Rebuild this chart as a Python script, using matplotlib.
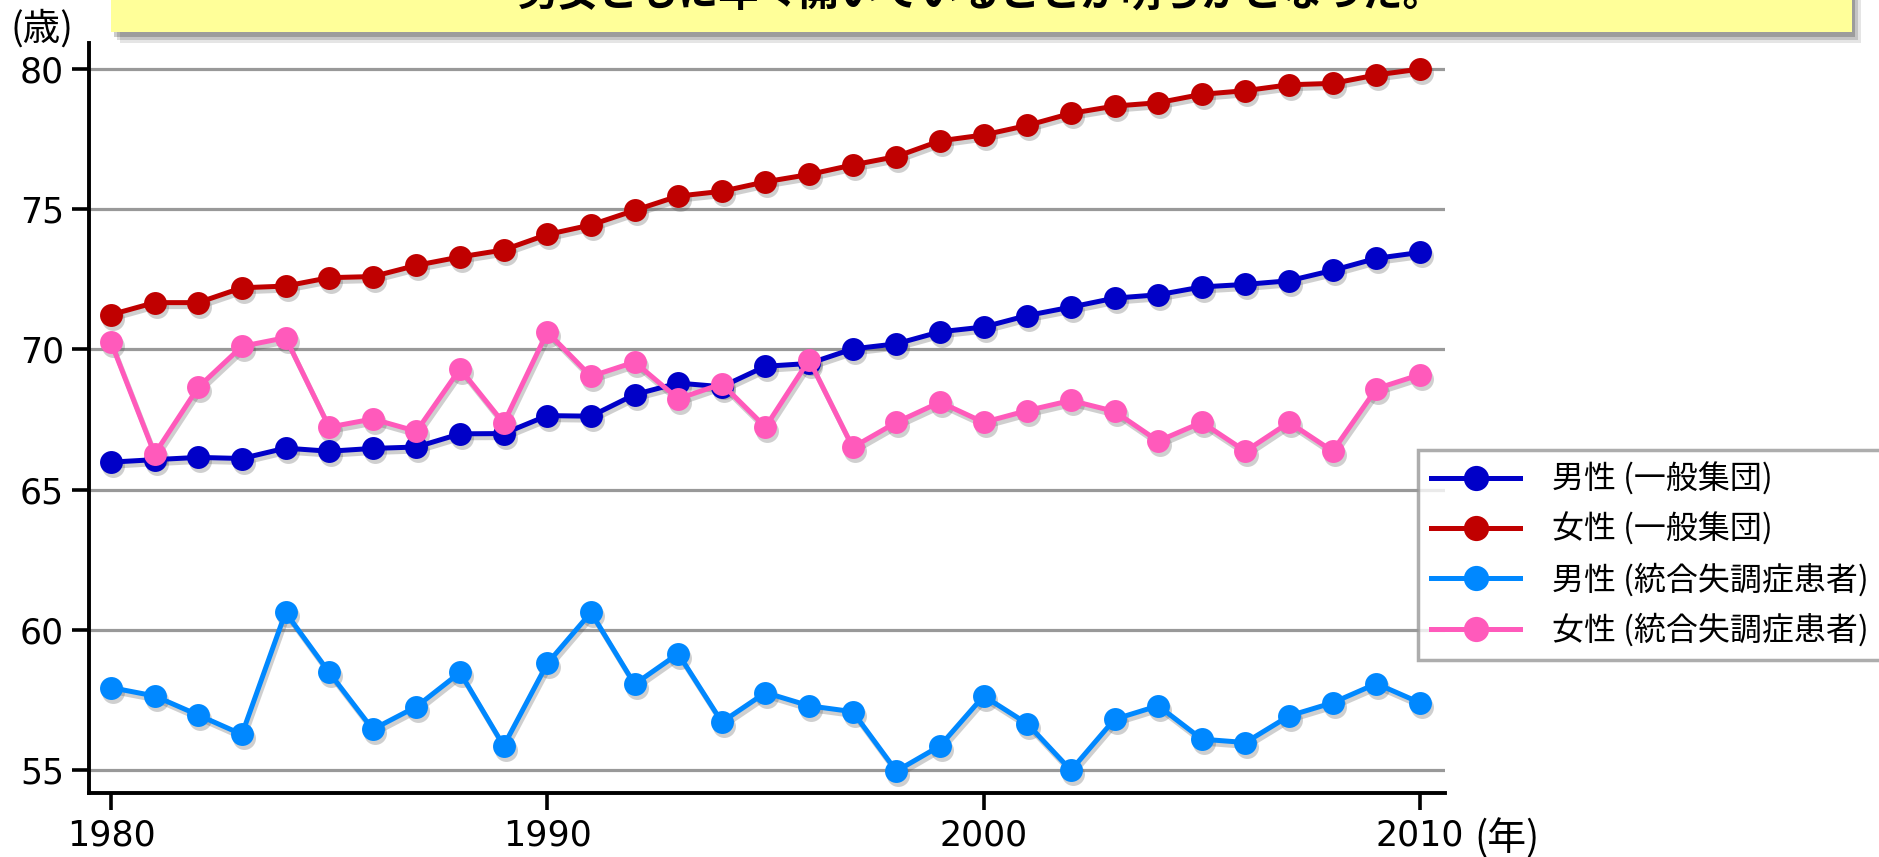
import matplotlib
matplotlib.use("Agg")
import matplotlib.pyplot as plt
import matplotlib.transforms as mtransforms
from matplotlib.patches import Rectangle

# 平均死亡年齢の推移 (1980-2010)
years = list(range(1980, 2011))

male_general = [65.98, 66.07, 66.15, 66.11, 66.48, 66.37, 66.47, 66.52, 66.99, 67.0,
                67.64, 67.62, 68.39, 68.8, 68.67, 69.4, 69.5, 70.02, 70.2, 70.63,
                70.8, 71.21, 71.51, 71.83, 71.95, 72.23, 72.32, 72.45, 72.82, 73.25, 73.46]
female_general = [71.24, 71.67, 71.67, 72.2, 72.26, 72.56, 72.6, 73.0, 73.3, 73.55,
                  74.1, 74.44, 74.96, 75.47, 75.64, 75.98, 76.24, 76.58, 76.88, 77.44,
                  77.65, 77.99, 78.42, 78.68, 78.8, 79.1, 79.23, 79.44, 79.49, 79.79, 80.0]
male_schizo = [57.94, 57.64, 56.96, 56.27, 60.62, 58.48, 56.45, 57.26, 58.48, 55.86,
               58.8, 60.62, 58.06, 59.15, 56.71, 57.76, 57.29, 57.08, 54.96, 55.86,
               57.64, 56.65, 54.99, 56.81, 57.29, 56.1, 55.98, 56.93, 57.4, 58.08, 57.4]
female_schizo = [70.26, 66.27, 68.65, 70.11, 70.42, 67.23, 67.52, 67.08, 69.31, 67.37,
                 70.62, 69.04, 69.55, 68.24, 68.77, 67.23, 69.63, 66.51, 67.4, 68.12,
                 67.4, 67.82, 68.18, 67.79, 66.73, 67.4, 66.37, 67.4, 66.37, 68.6, 69.1]

series_labels = ["男性 (一般集団)", "女性 (一般集団)", "男性 (統合失調症患者)", "女性 (統合失調症患者)"]
series_colors = ["#0000C8", "#C00000", "#0088FF", "#FF5ABB"]
x_ticks = [1980, 1990, 2000, 2010]
y_ticks = [55, 60, 65, 70, 75, 80]
headline = "男女ともに年々開いていることが明らかとなった。"

CJK = ["Noto Sans CJK JP", "DejaVu Sans"]

W, H = 1879, 857
fig = plt.figure(figsize=(W / 100, H / 100), dpi=100)
ax = fig.add_axes([89 / W, 1 - 793 / H, (1445 - 89) / W, (793 - 43) / H])

# yellow headline box with a soft shadow, cut by the top edge
for i, a in enumerate([0.10, 0.14, 0.20]):
    d = 3 * (3 - i)
    fig.patches.append(Rectangle(((111 + d) / W, 1 - (32 + d + 2) / H), 1741 / W, 60 / H,
                                 transform=fig.transFigure, facecolor="#000000",
                                 edgecolor="none", alpha=a, zorder=0))
fig.patches.append(Rectangle((111 / W, 1 - 32 / H), 1741 / W, 60 / H,
                             transform=fig.transFigure, facecolor="#FFFF99",
                             edgecolor="none", zorder=1))
fig.text(981 / W, 1 + 5 / H, headline, family=CJK, fontsize=29, fontweight="bold",
         ha="center", va="center", zorder=2)

shadow_tr = mtransforms.offset_copy(ax.transData, fig=fig, x=2, y=-4, units="dots")
data = [male_general, female_general, male_schizo, female_schizo]
handles = []
for vals, color, label in zip(data, series_colors, series_labels):
    ax.plot(years, vals, transform=shadow_tr, color="#555555", alpha=0.28, lw=3.6,
            marker="o", ms=16.5, mew=0, zorder=2)
    h, = ax.plot(years, vals, color=color, lw=3.6, marker="o", ms=16.5, mew=0,
                 label=label, zorder=3)
    handles.append(h)

ax.set_xlim(1979.496, 2010.573)
ax.set_ylim(54.18, 80.93)
ax.set_xticks(x_ticks)
ax.set_yticks(y_ticks)
ax.yaxis.grid(True, color="#999999", lw=2.3, zorder=0)
ax.set_axisbelow(True)
for side in ("top", "right"):
    ax.spines[side].set_visible(False)
for side in ("left", "bottom"):
    ax.spines[side].set_linewidth(2.8)
ax.tick_params(axis="both", length=12, width=2.6, labelsize=25, pad=6)

fig.text(42 / W, 1 - 29 / H, "(歳)", family=CJK, fontsize=27, ha="center", va="center")
fig.text(1474 / W, 1 - 850 / H, "(年)", family=CJK, fontsize=28, ha="left", va="baseline")

leg = fig.legend(handles=handles, loc="upper left",
                 bbox_to_anchor=(1418 / W, 1 - 450 / H), bbox_transform=fig.transFigure,
                 borderaxespad=0, prop={"family": CJK, "size": 23}, frameon=True,
                 fancybox=False, handlelength=2.8, handletextpad=1.0, borderpad=0.4,
                 labelspacing=0.53, markerscale=1.1)
leg.get_frame().set_edgecolor("#999999")
leg.get_frame().set_linewidth(2.5)

fig.savefig("out.png", dpi=100)
